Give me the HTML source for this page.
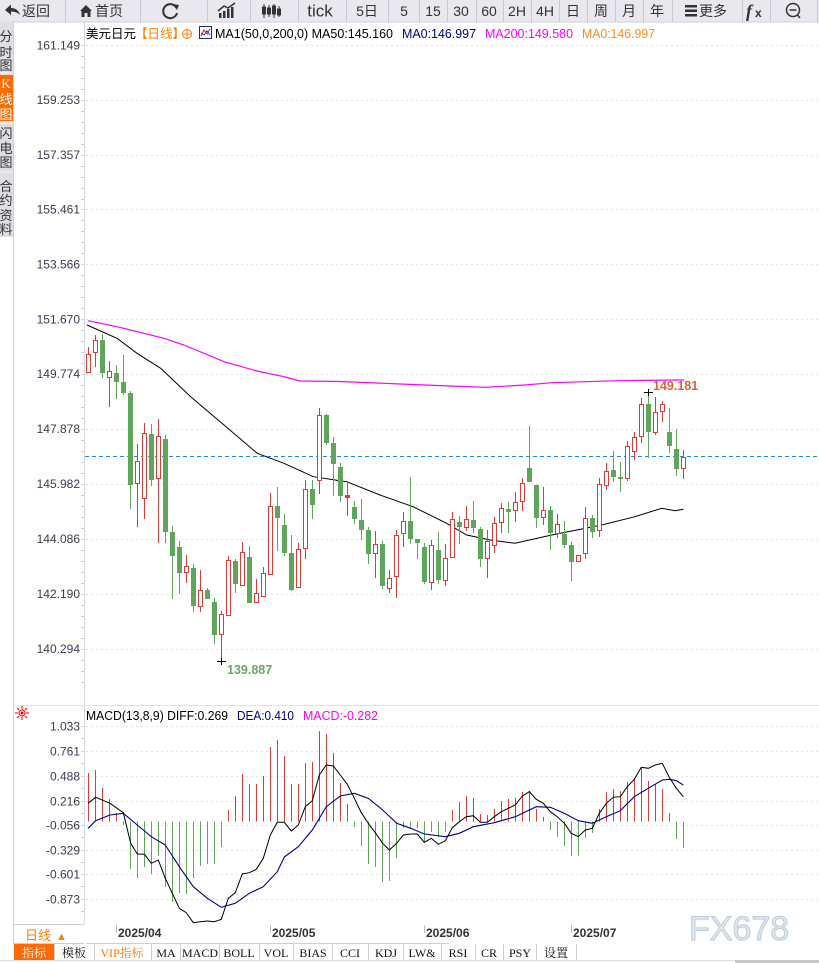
<!DOCTYPE html>
<html><head><meta charset="utf-8"><style>
html,body{margin:0;padding:0;background:#fff;}
svg{display:block;font-family:"Liberation Sans","Noto Sans CJK SC",sans-serif;}
.gc line,.gc path{stroke:#5ea65a;stroke-width:1;}
.gc rect{fill:#5ea65a;}
.rc line,.rc path{stroke:#de3b36;stroke-width:1;}
.rc rect{fill:#fff;stroke:#de3b36;stroke-width:1;}
.ax{fill:#3b3b55;font-size:12px;text-anchor:end;}
.tb{fill:#333;font-size:14px;text-anchor:middle;}
.bt{font-family:"Liberation Serif","Noto Serif CJK SC",serif;font-size:12px;fill:#111;text-anchor:middle;}
.sd{font-size:13px;fill:#333;text-anchor:middle;}
</style></head><body>
<svg width="819" height="963" viewBox="0 0 819 963" xmlns="http://www.w3.org/2000/svg">
<!-- toolbar -->
<rect x="0" y="0" width="819" height="22" fill="#e8e8ee"/>
<line x1="0" y1="22" x2="819" y2="22" stroke="#cfcfd6"/>
<g stroke="#c9c9d2" stroke-width="1">
<line x1="65.5" y1="0" x2="65.5" y2="22"/><line x1="140.5" y1="0" x2="140.5" y2="22"/><line x1="207.5" y1="0" x2="207.5" y2="22"/><line x1="250.5" y1="0" x2="250.5" y2="22"/><line x1="298.5" y1="0" x2="298.5" y2="22"/><line x1="346.5" y1="0" x2="346.5" y2="22"/><line x1="388.5" y1="0" x2="388.5" y2="22"/><line x1="419.5" y1="0" x2="419.5" y2="22"/><line x1="447.5" y1="0" x2="447.5" y2="22"/><line x1="476.5" y1="0" x2="476.5" y2="22"/><line x1="503.5" y1="0" x2="503.5" y2="22"/><line x1="531.5" y1="0" x2="531.5" y2="22"/><line x1="559.5" y1="0" x2="559.5" y2="22"/><line x1="587.5" y1="0" x2="587.5" y2="22"/><line x1="615.5" y1="0" x2="615.5" y2="22"/><line x1="643.5" y1="0" x2="643.5" y2="22"/><line x1="672.5" y1="0" x2="672.5" y2="22"/><line x1="742.5" y1="0" x2="742.5" y2="22"/><line x1="770.5" y1="0" x2="770.5" y2="22"/><line x1="817.5" y1="0" x2="817.5" y2="22"/>
</g>
<path d="M5 10 L11 4.5 L11 8 Q18 8 20 15 Q17 11.5 11 11.5 L11 15 Z" fill="#333"/>
<text x="22" y="16" font-size="14" fill="#333">返回</text>
<path d="M80 11 L86 5 L92 11 L90.5 11 L90.5 17 L87.5 17 L87.5 13 L84.5 13 L84.5 17 L81.5 17 L81.5 11 Z" fill="#333"/>
<text x="95" y="16" font-size="14" fill="#333">首页</text>
<path d="M176.5 8 A7 7 0 1 0 177 13" fill="none" stroke="#333" stroke-width="2"/>
<path d="M173 4 L179 5 L177 10 Z" fill="#333"/>
<g fill="#333"><rect x="219" y="13" width="2.5" height="5"/><rect x="223" y="11" width="2.5" height="7"/><rect x="227" y="9" width="2.5" height="9"/><rect x="231" y="7" width="2.5" height="11"/></g>
<path d="M218 11 L224 6 L228 8 L235 3" fill="none" stroke="#333" stroke-width="1.5"/>
<g fill="#333" stroke="#333"><line x1="264" y1="4" x2="264" y2="18"/><rect x="262.5" y="7" width="3" height="7"/><line x1="269" y1="5" x2="269" y2="17"/><rect x="267.5" y="8" width="3" height="6"/><line x1="274" y1="4" x2="274" y2="18"/><rect x="272.5" y="6" width="3" height="8"/><line x1="279" y1="6" x2="279" y2="17"/><rect x="277.5" y="9" width="3" height="6"/></g>
<text x="320" y="16.5" font-size="17" fill="#333" text-anchor="middle">tick</text>
<text class="tb" x="367" y="16">5日</text>
<text class="tb" x="404" y="16">5</text>
<text class="tb" x="433" y="16">15</text>
<text class="tb" x="461" y="16">30</text>
<text class="tb" x="489" y="16">60</text>
<text class="tb" x="517" y="16">2H</text>
<text class="tb" x="545" y="16">4H</text>
<text class="tb" x="573" y="16">日</text>
<text class="tb" x="601" y="16">周</text>
<text class="tb" x="629" y="16">月</text>
<text class="tb" x="657" y="16">年</text>
<g fill="#333"><rect x="685" y="5" width="12" height="2.5"/><rect x="685" y="9.5" width="12" height="2.5"/><rect x="685" y="14" width="12" height="2.5"/></g>
<text x="699" y="16" font-size="14" fill="#333">更多</text>
<text x="746" y="17" font-size="18" font-style="italic" font-weight="bold" fill="#333" font-family="Liberation Serif,serif">f</text>
<text x="755" y="17" font-size="12" font-weight="bold" fill="#333">x</text>
<circle cx="793" cy="10" r="6.5" fill="none" stroke="#333" stroke-width="1.5"/>
<line x1="789.5" y1="10" x2="796.5" y2="10" stroke="#333" stroke-width="1.5"/>
<line x1="797.5" y1="15" x2="800" y2="18" stroke="#333" stroke-width="1.5"/>

<!-- sidebar -->
<rect x="0" y="23" width="13" height="214" fill="#dedee3"/>
<rect x="0" y="75" width="13" height="46" fill="#ff6a00"/>
<line x1="0" y1="73" x2="13" y2="73" stroke="#f4f4f6"/>
<line x1="0" y1="123" x2="13" y2="123" stroke="#f4f4f6"/>
<line x1="0" y1="172" x2="13" y2="172" stroke="#f4f4f6"/>
<line x1="13.5" y1="22" x2="13.5" y2="944" stroke="#cdd3dc"/>
<text class="sd" x="6" y="41">分</text><text class="sd" x="6" y="57">时</text><text class="sd" x="6" y="70">图</text>
<text class="sd" x="6" y="88" style="fill:#fff" font-family="Liberation Serif,serif">K</text><text class="sd" x="6" y="104" style="fill:#fff">线</text><text class="sd" x="6" y="119" style="fill:#fff">图</text>
<text class="sd" x="6" y="138">闪</text><text class="sd" x="6" y="153">电</text><text class="sd" x="6" y="167">图</text>
<text class="sd" x="6" y="191">合</text><text class="sd" x="6" y="205">约</text><text class="sd" x="6" y="220">资</text><text class="sd" x="6" y="234">料</text>

<!-- y axis line -->
<line x1="84.5" y1="22" x2="84.5" y2="924" stroke="#d6dce6"/>
<!-- panel separator -->
<line x1="13" y1="705.5" x2="819" y2="705.5" stroke="#e2e2e2"/>

<!-- price grid -->
<g stroke="#e3e3e3" stroke-dasharray="2,3">
<line x1="86" y1="45.5" x2="819" y2="45.5"/><line x1="86" y1="100.5" x2="819" y2="100.5"/><line x1="86" y1="155.5" x2="819" y2="155.5"/><line x1="86" y1="209.5" x2="819" y2="209.5"/><line x1="86" y1="264.5" x2="819" y2="264.5"/><line x1="86" y1="319.5" x2="819" y2="319.5"/><line x1="86" y1="374.5" x2="819" y2="374.5"/><line x1="86" y1="429.5" x2="819" y2="429.5"/><line x1="86" y1="484.5" x2="819" y2="484.5"/><line x1="86" y1="539.5" x2="819" y2="539.5"/><line x1="86" y1="594.5" x2="819" y2="594.5"/><line x1="86" y1="649.5" x2="819" y2="649.5"/>
<line x1="86" y1="726.5" x2="819" y2="726.5"/><line x1="86" y1="751.5" x2="819" y2="751.5"/><line x1="86" y1="776.5" x2="819" y2="776.5"/><line x1="86" y1="801.5" x2="819" y2="801.5"/><line x1="86" y1="825.5" x2="819" y2="825.5"/><line x1="86" y1="850.5" x2="819" y2="850.5"/><line x1="86" y1="874.5" x2="819" y2="874.5"/><line x1="86" y1="899.5" x2="819" y2="899.5"/>
</g>
<!-- axis ticks -->
<path d="M81 45.5h3M81 56.5h3M81 67.5h3M81 78.5h3M81 89.5h3M81 100.5h3M81 111.5h3M81 122.5h3M81 133.5h3M81 144.5h3M81 155.5h3M81 166.5h3M81 177.5h3M81 188.5h3M81 199.5h3M81 209.5h3M81 220.5h3M81 231.5h3M81 242.5h3M81 253.5h3M81 264.5h3M81 275.5h3M81 286.5h3M81 297.5h3M81 308.5h3M81 319.5h3M81 330.5h3M81 341.5h3M81 352.5h3M81 363.5h3M81 374.5h3M81 385.5h3M81 396.5h3M81 407.5h3M81 418.5h3M81 429.5h3M81 440.5h3M81 451.5h3M81 462.5h3M81 473.5h3M81 484.5h3M81 495.5h3M81 506.5h3M81 517.5h3M81 528.5h3M81 539.5h3M81 550.5h3M81 561.5h3M81 572.5h3M81 583.5h3M81 594.5h3M81 605.5h3M81 616.5h3M81 627.5h3M81 638.5h3M81 649.5h3M81 660.5h3M81 671.5h3M81 682.5h3M81 726.5h3M81 738.5h3M81 751.5h3M81 763.5h3M81 776.5h3M81 788.5h3M81 801.5h3M81 813.5h3M81 825.5h3M81 837.5h3M81 850.5h3M81 862.5h3M81 874.5h3M81 886.5h3M81 899.5h3M81 911.5h3" stroke="#c8d0dc"/>

<!-- axis labels -->
<g class="ax">
<text x="80" y="49.5">161.149</text><text x="80" y="104">159.253</text><text x="80" y="159">157.357</text><text x="80" y="213.5">155.461</text><text x="80" y="268.5">153.566</text><text x="80" y="323.5">151.670</text><text x="80" y="378">149.774</text><text x="80" y="433">147.878</text><text x="80" y="488">145.982</text><text x="80" y="543">144.086</text><text x="80" y="598">142.190</text><text x="80" y="653">140.294</text>
<text x="80" y="730.5">1.033</text><text x="80" y="755.5">0.761</text><text x="80" y="780.5">0.488</text><text x="80" y="805.5">0.216</text><text x="80" y="829.5">-0.056</text><text x="80" y="854.5">-0.329</text><text x="80" y="878.5">-0.601</text><text x="80" y="903.5">-0.873</text>
</g>

<!-- legend -->
<text x="86" y="38" font-size="12.5" fill="#000">美元日元</text>
<text x="135" y="38" font-size="12.5" fill="#ff7f00">【日线】</text>
<circle cx="187" cy="34" r="4.5" fill="none" stroke="#ff7f00"/>
<path d="M182.5 34h9M187 29.5v9" stroke="#ff7f00"/>
<rect x="199.5" y="26.5" width="12" height="12" fill="#fff" stroke="#1a2a9a"/>
<path d="M201 36 L204 30 L207 34 L210 29" fill="none" stroke="#e02020"/>
<path d="M201 33 L204 35 L207 31 L210 35" fill="none" stroke="#2030c0"/>
<text x="215" y="38" font-size="12.5" fill="#000" textLength="178" lengthAdjust="spacingAndGlyphs">MA1(50,0,200,0) MA50:145.160</text>
<text x="402" y="38" font-size="12.5" fill="#00007a" textLength="74" lengthAdjust="spacingAndGlyphs">MA0:146.997</text>
<text x="485" y="38" font-size="12.5" fill="#ff00ff" textLength="88" lengthAdjust="spacingAndGlyphs">MA200:149.580</text>
<text x="582" y="38" font-size="12.5" fill="#ff8c1a" textLength="73" lengthAdjust="spacingAndGlyphs">MA0:146.997</text>

<!-- MA200 -->
<polyline fill="none" stroke="#ff00ff" stroke-width="1.2" points="88,320.7 117,326.7 164,338.3 184,345 224,361.7 257,371 284,376.7 300,381 340,381.5 400,384 450,386 485,387.3 525,385 551.7,382.7 618,380.7 672,380 684,380"/>
<!-- MA50 -->
<polyline fill="none" stroke="#000" stroke-width="1" points="87,325 117,338.3 137,353.3 160.7,368.3 190.7,396.7 224,425 257.3,453.3 284,463.3 313.3,476.7 346.7,481.7 380,495 413,506.7 446.7,523.3 466.7,535 490,540 515,543.3 551.7,535 601.7,525 635,516.7 661.7,508.3 675,510.7 683.5,509.3"/>
<!-- current price dashed -->
<line x1="85" y1="456.5" x2="819" y2="456.5" stroke="#1e88e5" stroke-dasharray="4,3"/>

<!-- candles green -->
<g class="gc">
<line x1="102.5" y1="334" x2="102.5" y2="378"/><rect x="100" y="340" width="5" height="33"/>
<line x1="116.5" y1="365" x2="116.5" y2="399"/><rect x="114" y="373" width="5" height="9"/>
<line x1="123.5" y1="355" x2="123.5" y2="395"/><rect x="121" y="382" width="5" height="11"/>
<line x1="130.5" y1="391" x2="130.5" y2="509"/><rect x="128" y="393" width="5" height="92"/>
<line x1="151.5" y1="424" x2="151.5" y2="486"/><rect x="149" y="434" width="5" height="46"/>
<line x1="165.5" y1="435" x2="165.5" y2="543"/><rect x="163" y="439" width="5" height="93"/>
<line x1="172.5" y1="526" x2="172.5" y2="599"/><rect x="170" y="532" width="5" height="24"/>
<line x1="179.5" y1="541" x2="179.5" y2="594"/><rect x="177" y="547" width="5" height="26"/>
<line x1="193.5" y1="564" x2="193.5" y2="612"/><rect x="191" y="568" width="5" height="38"/>
<line x1="207.5" y1="588" x2="207.5" y2="599"/><rect x="205" y="590" width="5" height="9"/>
<line x1="214.5" y1="598" x2="214.5" y2="644"/><rect x="212" y="602" width="5" height="33"/>
<line x1="235.5" y1="559" x2="235.5" y2="593"/><rect x="233" y="561" width="5" height="23"/>
<line x1="249.5" y1="546" x2="249.5" y2="603"/><rect x="247" y="557" width="5" height="46"/>
<line x1="277.5" y1="487" x2="277.5" y2="551"/><rect x="275" y="506" width="5" height="12"/>
<line x1="284.5" y1="514" x2="284.5" y2="556"/><rect x="282" y="525" width="5" height="28"/>
<line x1="291.5" y1="535" x2="291.5" y2="591"/><rect x="289" y="553" width="5" height="37"/>
<line x1="312.5" y1="480" x2="312.5" y2="519"/><rect x="310" y="489" width="5" height="16"/>
<line x1="326.5" y1="414" x2="326.5" y2="445"/><rect x="324" y="415" width="5" height="28"/>
<line x1="333.5" y1="437" x2="333.5" y2="496"/><rect x="331" y="443" width="5" height="21"/>
<line x1="340.5" y1="463" x2="340.5" y2="502"/><rect x="338" y="467" width="5" height="29"/>
<line x1="354.5" y1="501" x2="354.5" y2="524"/><rect x="352" y="507" width="5" height="12"/>
<line x1="361.5" y1="499" x2="361.5" y2="540"/><rect x="359" y="520" width="5" height="10"/>
<line x1="368.5" y1="527" x2="368.5" y2="564"/><rect x="366" y="530" width="5" height="24"/>
<line x1="382.5" y1="541" x2="382.5" y2="589"/><rect x="380" y="544" width="5" height="42"/>
<line x1="410.5" y1="477" x2="410.5" y2="544"/><rect x="408" y="521" width="5" height="18"/>
<line x1="417.5" y1="539" x2="417.5" y2="559"/><rect x="415" y="539" width="5" height="4"/>
<line x1="424.5" y1="543" x2="424.5" y2="584"/><rect x="422" y="547" width="5" height="35"/>
<line x1="438.5" y1="532" x2="438.5" y2="584"/><rect x="436" y="550" width="5" height="30"/>
<line x1="459.5" y1="516" x2="459.5" y2="544"/><rect x="457" y="522" width="5" height="5"/>
<line x1="473.5" y1="501" x2="473.5" y2="533"/><rect x="471" y="520" width="5" height="8"/>
<line x1="480.5" y1="527" x2="480.5" y2="567"/><rect x="478" y="529" width="5" height="30"/>
<line x1="508.5" y1="502" x2="508.5" y2="533"/><rect x="506" y="509" width="5" height="3"/>
<line x1="529.5" y1="426" x2="529.5" y2="482"/><rect x="527" y="468" width="5" height="14"/>
<line x1="536.5" y1="485" x2="536.5" y2="528"/><rect x="534" y="485" width="5" height="33"/>
<line x1="550.5" y1="506" x2="550.5" y2="550"/><rect x="548" y="510" width="5" height="23"/>
<line x1="564.5" y1="521" x2="564.5" y2="548"/><rect x="562" y="534" width="5" height="11"/>
<line x1="571.5" y1="542" x2="571.5" y2="581"/><rect x="569" y="545" width="5" height="17"/>
<line x1="592.5" y1="515" x2="592.5" y2="538"/><rect x="590" y="518" width="5" height="14"/>
<line x1="613.5" y1="451" x2="613.5" y2="482"/><rect x="611" y="470" width="5" height="7"/>
<line x1="620.5" y1="462" x2="620.5" y2="492"/><rect x="618" y="477" width="5" height="2"/>
<line x1="648.5" y1="392" x2="648.5" y2="458"/><rect x="646" y="404" width="5" height="28"/>
<line x1="669.5" y1="408" x2="669.5" y2="453"/><rect x="667" y="432" width="5" height="14"/>
<line x1="676.5" y1="429" x2="676.5" y2="476"/><rect x="674" y="449" width="5" height="20"/>
</g>
<!-- candles red -->
<g class="rc">
<line x1="88.5" y1="347" x2="88.5" y2="373"/><rect x="86.5" y="354.5" width="4" height="18"/>
<line x1="95.5" y1="335" x2="95.5" y2="367"/><rect x="93.5" y="340.5" width="4" height="12"/>
<line x1="109.5" y1="361" x2="109.5" y2="407"/><rect x="107.5" y="371.5" width="4" height="6"/>
<line x1="137.5" y1="444" x2="137.5" y2="527"/><rect x="135.5" y="461.5" width="4" height="22"/>
<line x1="144.5" y1="423" x2="144.5" y2="519"/><rect x="142.5" y="433.5" width="4" height="65"/>
<line x1="158.5" y1="419" x2="158.5" y2="543"/><rect x="156.5" y="436.5" width="4" height="42"/>
<line x1="186.5" y1="555" x2="186.5" y2="583"/><rect x="184.5" y="566.5" width="4" height="6"/>
<line x1="200.5" y1="570" x2="200.5" y2="612"/><rect x="198.5" y="590.5" width="4" height="16"/>
<line x1="221.5" y1="611" x2="221.5" y2="661"/><rect x="219.5" y="614.5" width="4" height="20"/>
<line x1="228.5" y1="556" x2="228.5" y2="616"/><rect x="226.5" y="560.5" width="4" height="55"/>
<line x1="242.5" y1="542" x2="242.5" y2="586"/><rect x="240.5" y="552.5" width="4" height="33"/>
<line x1="256.5" y1="579" x2="256.5" y2="603"/><rect x="254.5" y="593.5" width="4" height="9"/>
<line x1="263.5" y1="567" x2="263.5" y2="597"/><rect x="261.5" y="573.5" width="4" height="23"/>
<line x1="270.5" y1="493" x2="270.5" y2="575"/><rect x="268.5" y="506.5" width="4" height="68"/>
<line x1="298.5" y1="543" x2="298.5" y2="588"/><rect x="296.5" y="549.5" width="4" height="38"/>
<line x1="305.5" y1="480" x2="305.5" y2="559"/><rect x="303.5" y="489.5" width="4" height="59"/>
<line x1="319.5" y1="408" x2="319.5" y2="494"/><rect x="317.5" y="415.5" width="4" height="65"/>
<line x1="347.5" y1="483" x2="347.5" y2="516"/><rect x="345.5" y="495.5" width="4" height="2" style="fill:#de3b36"/>
<line x1="375.5" y1="531" x2="375.5" y2="578"/><rect x="373.5" y="544.5" width="4" height="9"/>
<line x1="389.5" y1="570" x2="389.5" y2="593"/><rect x="387.5" y="578.5" width="4" height="10"/>
<line x1="396.5" y1="530" x2="396.5" y2="598"/><rect x="394.5" y="535.5" width="4" height="41"/>
<line x1="403.5" y1="512" x2="403.5" y2="547"/><rect x="401.5" y="521.5" width="4" height="12"/>
<line x1="431.5" y1="540" x2="431.5" y2="590"/><rect x="429.5" y="545.5" width="4" height="37"/>
<line x1="445.5" y1="544" x2="445.5" y2="586"/><rect x="443.5" y="558.5" width="4" height="22"/>
<line x1="452.5" y1="512" x2="452.5" y2="558"/><rect x="450.5" y="519.5" width="4" height="38"/>
<line x1="466.5" y1="506" x2="466.5" y2="531"/><rect x="464.5" y="519.5" width="4" height="8"/>
<line x1="487.5" y1="530" x2="487.5" y2="578"/><rect x="485.5" y="541.5" width="4" height="17"/>
<line x1="494.5" y1="517" x2="494.5" y2="553"/><rect x="492.5" y="523.5" width="4" height="22"/>
<line x1="501.5" y1="503" x2="501.5" y2="533"/><rect x="499.5" y="508.5" width="4" height="14"/>
<line x1="515.5" y1="492" x2="515.5" y2="522"/><rect x="513.5" y="502.5" width="4" height="8"/>
<line x1="522.5" y1="478" x2="522.5" y2="511"/><rect x="520.5" y="483.5" width="4" height="18"/>
<line x1="543.5" y1="487" x2="543.5" y2="525"/><rect x="541.5" y="510.5" width="4" height="7"/>
<line x1="557.5" y1="514" x2="557.5" y2="538"/><rect x="555.5" y="524.5" width="4" height="9"/>
<line x1="578.5" y1="555" x2="578.5" y2="562"/><rect x="576.5" y="555.5" width="4" height="6"/>
<line x1="585.5" y1="507" x2="585.5" y2="559"/><rect x="583.5" y="518.5" width="4" height="35"/>
<line x1="599.5" y1="478" x2="599.5" y2="537"/><rect x="597.5" y="484.5" width="4" height="46"/>
<line x1="606.5" y1="463" x2="606.5" y2="490"/><rect x="604.5" y="471.5" width="4" height="14"/>
<line x1="627.5" y1="441" x2="627.5" y2="481"/><rect x="625.5" y="446.5" width="4" height="32"/>
<line x1="634.5" y1="432" x2="634.5" y2="460"/><rect x="632.5" y="437.5" width="4" height="14"/>
<line x1="641.5" y1="398" x2="641.5" y2="443"/><rect x="639.5" y="404.5" width="4" height="32"/>
<line x1="655.5" y1="397" x2="655.5" y2="435"/><rect x="653.5" y="412.5" width="4" height="20"/>
<line x1="662.5" y1="401" x2="662.5" y2="422"/><rect x="660.5" y="404.5" width="4" height="7"/>
<line x1="683.5" y1="450" x2="683.5" y2="479"/><rect x="681.5" y="457.5" width="4" height="11"/>
</g>
<!-- hi/lo markers -->
<path d="M644 392.5h9M648.5 389v7" stroke="#000"/>
<text x="653" y="390" font-size="12.5" font-weight="bold" fill="#e0603c">149.181</text>
<path d="M217 661.5h9M221.5 658v7" stroke="#000"/>
<text x="227" y="674" font-size="12.5" font-weight="bold" fill="#6aa86a">139.887</text>

<!-- MACD legend -->
<g fill="none" stroke="#e00">
<circle cx="22" cy="713" r="3"/>
<path d="M22 706v3M22 717v3M15 713h3M26 713h3M17 708l2 2M27 708l-2 2M17 718l2-2M27 718l-2-2"/>
</g>
<circle cx="22" cy="713" r="1.5" fill="#e00"/>
<text x="86" y="720" font-size="12.5" fill="#000" textLength="142" lengthAdjust="spacingAndGlyphs">MACD(13,8,9) DIFF:0.269</text>
<text x="237" y="720" font-size="12.5" fill="#000080" textLength="57" lengthAdjust="spacingAndGlyphs">DEA:0.410</text>
<text x="303" y="720" font-size="12.5" fill="#ff00ff" textLength="75" lengthAdjust="spacingAndGlyphs">MACD:-0.282</text>

<!-- MACD histogram -->
<path fill="none" stroke="#de3b36" d="M88.5 821.5V773M95.5 821.5V770M102.5 821.5V788M109.5 821.5V799M116.5 821.5V813M228.5 821.5V810M235.5 821.5V796M242.5 821.5V774M249.5 821.5V784M256.5 821.5V784M263.5 821.5V776M270.5 821.5V747M277.5 821.5V740M284.5 821.5V756M291.5 821.5V784M298.5 821.5V784M305.5 821.5V763M312.5 821.5V762M319.5 821.5V731M326.5 821.5V734M333.5 821.5V753M340.5 821.5V783M347.5 821.5V804M452.5 821.5V810M459.5 821.5V802M466.5 821.5V796M473.5 821.5V798M480.5 821.5V814M487.5 821.5V815M494.5 821.5V809M501.5 821.5V801M508.5 821.5V799M515.5 821.5V798M522.5 821.5V792M529.5 821.5V791M536.5 821.5V809M543.5 821.5V817M599.5 821.5V809M606.5 821.5V792M613.5 821.5V789M620.5 821.5V791M627.5 821.5V782M634.5 821.5V779M641.5 821.5V768M648.5 821.5V781M655.5 821.5V784M662.5 821.5V789M669.5 821.5V813"/>
<path fill="none" stroke="#5ea65a" d="M123.5 821.5V825M130.5 821.5V869M137.5 821.5V878M144.5 821.5V867M151.5 821.5V874M158.5 821.5V856M165.5 821.5V887M172.5 821.5V902M179.5 821.5V893M186.5 821.5V894M193.5 821.5V878M200.5 821.5V866M207.5 821.5V864M214.5 821.5V864M221.5 821.5V847M354.5 821.5V827M361.5 821.5V846M368.5 821.5V864M375.5 821.5V867M382.5 821.5V882M389.5 821.5V881M396.5 821.5V858M403.5 821.5V828M410.5 821.5V828M417.5 821.5V828M424.5 821.5V842M431.5 821.5V832M438.5 821.5V837M445.5 821.5V832M550.5 821.5V830M557.5 821.5V837M564.5 821.5V846M571.5 821.5V856M578.5 821.5V856M585.5 821.5V838M592.5 821.5V833M676.5 821.5V839M683.5 821.5V848"/>
<!-- DEA -->
<polyline fill="none" stroke="#00008b" stroke-width="1.1" points="88,828.3 95.7,820.7 110,815 123.3,813.3 137.3,825 151.3,836.7 165.3,845 179.3,866.7 193.3,886.7 207.3,898.3 221.3,907.3 235.3,903.3 249.3,893.3 263.3,886.7 277.3,871.7 284.3,857 298.3,846.7 312.3,830 326.3,806.7 340.3,796 354.3,793.3 368.3,798.3 382.7,810 396.7,823.3 410.7,828.3 424.3,834 445.3,836.7 459.3,833.3 473.3,826.7 494.3,822.7 515.3,816.7 536.3,806.7 550.3,807.3 564.3,813.3 578.3,820.7 592.3,823.3 606.3,816.7 620.3,810.7 634.3,796.7 648.3,788.3 662.3,780 669.3,779.3 676.3,780.7 683.3,785"/>
<!-- DIFF -->
<polyline fill="none" stroke="#000" stroke-width="1" points="88,803.3 95.7,797.3 110,803.3 123.3,812.7 130.7,843.3 137.3,854 144.3,854.3 151.3,863.3 158.3,860 165.3,878.3 172.3,893.3 179.3,908.3 186.3,912.7 193.3,922.7 200.3,921.7 207.3,921 214.3,921.7 221.3,919.3 228.3,898.3 235.3,892.7 242.3,874 249.3,872.7 256.3,869.3 263.3,858.3 270.3,835 277.3,822.3 284.3,822.3 291.3,831 298.3,825 305.3,806.7 312.3,800.7 319.3,775 326.3,765 333.3,766 340.3,775 347.3,784.3 354.3,798.3 361.3,812.7 368.3,823.3 375.7,833.3 382.7,843.3 389.3,850 396.7,843.3 403.3,835 410.7,834 417.3,834 424.3,842.3 431.3,838.3 438.3,844.3 445.3,840.7 452.3,827.7 459.3,821.7 466.3,816.7 473.3,815.7 480.3,822.3 487.3,822.3 494.3,816.7 501.3,811.7 508.3,808.3 515.3,805 522.3,796 529.3,791.7 536.3,799.3 543.3,803.3 550.3,811.7 557.3,816.7 564.3,823.3 571.3,833.3 578.3,836.7 585.3,830 592.3,828.3 599.3,813.3 606.3,803.3 613.3,797.3 620.3,796.7 627.3,786.7 634.3,779.3 641.3,767.3 648.3,768.3 655.3,765 662.3,763.3 669.3,777.3 676.3,788.3 683.3,796.7"/>

<!-- date axis -->
<line x1="13" y1="924.5" x2="84" y2="924.5" stroke="#c8ced8"/>
<line x1="13" y1="943.5" x2="84" y2="943.5" stroke="#c8ced8"/>
<text x="25" y="940" font-size="13" fill="#ff7f00">日线</text>
<text x="56" y="940" font-size="11" fill="#ff7f00">▲</text>
<g stroke="#b8c0cc"><line x1="116.5" y1="925" x2="116.5" y2="933"/><line x1="270.5" y1="925" x2="270.5" y2="933"/><line x1="424.5" y1="925" x2="424.5" y2="933"/><line x1="571.5" y1="925" x2="571.5" y2="933"/></g>
<g font-size="12" font-weight="bold" fill="#333">
<text x="118" y="937">2025/04</text><text x="272" y="937">2025/05</text><text x="426" y="937">2025/06</text><text x="573" y="937">2025/07</text>
</g>
<line x1="86" y1="943.5" x2="449" y2="943.5" stroke="#d0d0d0"/>
<text x="689" y="940" font-size="34" fill="#e2e8f0" stroke="#bccadb" stroke-width="1">FX678</text>

<!-- bottom toolbar -->
<rect x="0" y="944" width="819" height="19" fill="#fff"/>
<line x1="0" y1="960.5" x2="819" y2="960.5" stroke="#dcdcdc"/>
<rect x="735" y="960" width="84" height="3" fill="#c8c8c8"/>
<rect x="14" y="944" width="40" height="16" fill="#ff6a00"/>
<g stroke="#d0d0d0"><line x1="54.5" y1="944" x2="54.5" y2="960"/><line x1="94.5" y1="944" x2="94.5" y2="960"/><line x1="151.5" y1="944" x2="151.5" y2="960"/><line x1="180.5" y1="944" x2="180.5" y2="960"/><line x1="219.5" y1="944" x2="219.5" y2="960"/><line x1="259.5" y1="944" x2="259.5" y2="960"/><line x1="293.5" y1="944" x2="293.5" y2="960"/><line x1="332.5" y1="944" x2="332.5" y2="960"/><line x1="368.5" y1="944" x2="368.5" y2="960"/><line x1="403.5" y1="944" x2="403.5" y2="960"/><line x1="441.5" y1="944" x2="441.5" y2="960"/><line x1="475.5" y1="944" x2="475.5" y2="960"/><line x1="503.5" y1="944" x2="503.5" y2="960"/><line x1="536.5" y1="944" x2="536.5" y2="960"/><line x1="576.5" y1="944" x2="576.5" y2="960"/></g>
<text class="bt" x="34" y="957" style="fill:#fff" font-size="13">指标</text>
<text class="bt" x="74" y="957" font-size="13">模板</text>
<text class="bt" x="122" y="957" style="fill:#ff7700">VIP指标</text>
<text class="bt" x="166" y="957">MA</text>
<text class="bt" x="200" y="957">MACD</text>
<text class="bt" x="239" y="957">BOLL</text>
<text class="bt" x="276" y="957">VOL</text>
<text class="bt" x="313" y="957">BIAS</text>
<text class="bt" x="350" y="957">CCI</text>
<text class="bt" x="386" y="957">KDJ</text>
<text class="bt" x="422" y="957">LW&amp;</text>
<text class="bt" x="458" y="957">RSI</text>
<text class="bt" x="489" y="957">CR</text>
<text class="bt" x="520" y="957">PSY</text>
<text class="bt" x="556" y="957" font-size="13">设置</text>
</svg>
</body></html>
